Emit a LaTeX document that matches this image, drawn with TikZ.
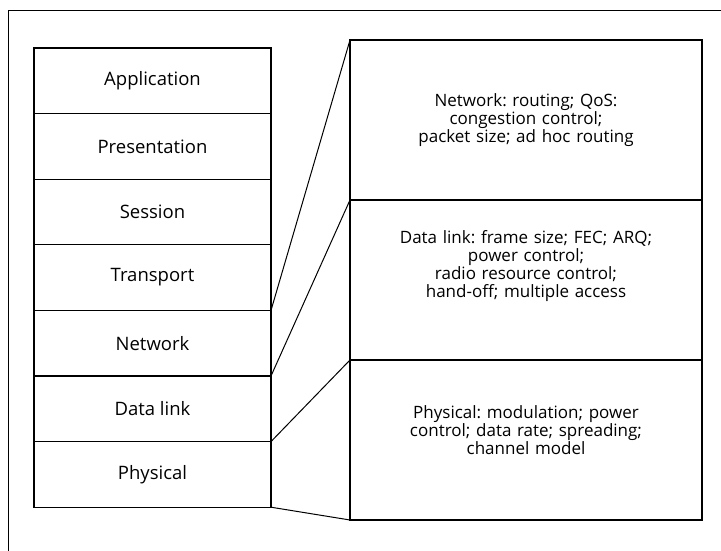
\documentclass[tikz,border=0pt]{standalone}
\usepackage{fontspec}
\setmainfont{Open Sans}
\frenchspacing
\usetikzlibrary{positioning}
\tikzset{
	layer/.style={
			draw, line width=1.1pt, inner sep=0pt, outer sep=0pt,
			minimum width=237pt, minimum height=65.6pt,
			font=\fontsize{18.5}{21}\selectfont
		},
	info/.style={
			draw, line width=1.1pt, inner sep=0pt, outer sep=0pt,
			minimum width=352pt, minimum height=160pt,
			text width=340pt, align=center,
			font=\fontsize{17}{18}\selectfont
		},
	link/.style={line width=1pt}
}

\begin{document}
\begin{tikzpicture}[x=1pt,y=-1pt]
			\useasboundingbox (0,0) rectangle (721,551);
			
			% Frame
			\draw[line width=0.8pt] (8,551) -- (8,10) -- (721,10);
			
			% The seven layers
			\node[layer] (app) at (152.5,80.8) {Application};
			\node[layer, below=0pt of app] (pres) {Presentation};
			\node[layer, below=0pt of pres] (sess) {Session};
			\node[layer, below=0pt of sess] (trans) {Transport};
			\node[layer, below=0pt of trans] (net) {Network};
			\node[layer, below=0pt of net] (dlink) {Data link};
			\node[layer, below=0pt of dlink] (phys) {Physical};
			
			% Details of the lower layers
			\node[info] (netinfo) at (526,120) {Network: routing; QoS:\\ congestion control;\\ packet size; ad hoc routing};
			\node[info, text depth=86pt, below=0pt of netinfo] (linkinfo) {Data link: frame size; FEC; ARQ;\\ power control;\\ radio resource control;\\ hand-off; multiple access};
			\node[info, text depth=56pt, below=0pt of linkinfo] (phyinfo) {Physical: modulation; power\\ control; data rate; spreading;\\ channel model};
			
			% Fan lines
			\draw[link] (trans.south east) -- (netinfo.north west);
			\draw[link] (net.south east) -- (linkinfo.north west);
			\draw[link] (dlink.south east) -- (phyinfo.north west);
			\draw[link] (phys.south east) -- (phyinfo.south west);
			
		\end{tikzpicture}
\end{document}
